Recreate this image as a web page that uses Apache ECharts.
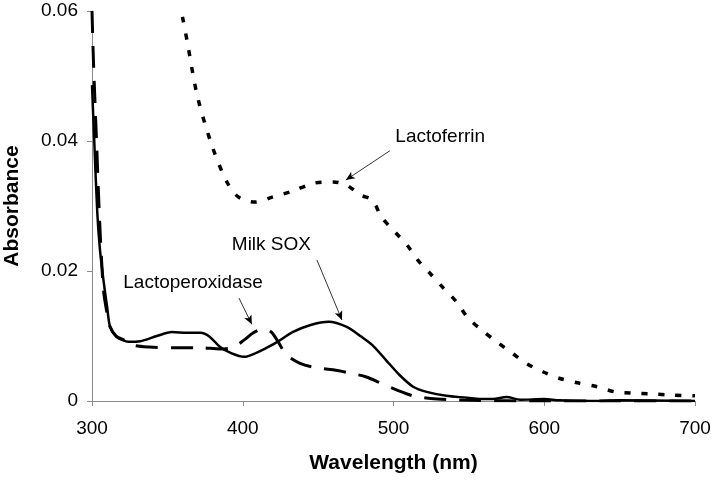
<!DOCTYPE html>
<html><head><meta charset="utf-8">
<script src="https://cdn.jsdelivr.net/npm/echarts@6/dist/echarts.min.js"></script>
<style>html,body{margin:0;padding:0;background:#fff}#c{width:719px;height:483px}</style>
</head><body><div id="c"></div>
<script>
var xTicks = [300, 400, 500, 600, 700];
var yTicks = [0, 0.02, 0.04, 0.06];

var soxWl = [300,301.5,303.5,305.3,307.6,310,312,316,320,324,332,343,353,363,372,378,385,392,401,409,416,423,433,445,457,469,478,486,495,504,513,522,535,549,557,566,575,584,600,610,630,650,700];
var soxAbs = [0.0486,0.040,0.029,0.0232,0.0186,0.0145,0.0114,0.0099,0.0094,0.0091,0.0092,0.0100,0.0106,0.0105,0.0105,0.0099,0.0083,0.0074,0.0068,0.0074,0.0082,0.0091,0.0106,0.0117,0.0122,0.0114,0.0100,0.0086,0.0063,0.0040,0.0022,0.0014,0.0008,0.0005,0.0003,0.0003,0.0006,0.0002,0.0003,0.0001,0,0.0001,0];

var lpoWl = [300,301,303,305,307.6,310,312,316,321,327,338,354,372,385,394,401,407,414,419,424,429,438,449,460,471,482,491,502,513,529,552,600,650,700];
var lpoAbs = [0.060,0.052,0.040,0.028,0.0171,0.0135,0.0114,0.0100,0.0094,0.0086,0.0083,0.0082,0.0082,0.0080,0.0083,0.0094,0.0105,0.0111,0.0106,0.0089,0.0071,0.0058,0.0051,0.0048,0.0043,0.0037,0.0028,0.0017,0.0008,0.0003,0.0001,0,0,0];

var lfWl = [360,363,370,380,389.5,397,408,420,432,447,460,469,478,486,492,501,509,516,524,533,542,549,558.5,568.5,578.5,588,599,610,622,635,647,659,671,685,700];
var lfAbs = [0.0591,0.0555,0.0468,0.039,0.0337,0.0314,0.0306,0.0314,0.0322,0.0335,0.0337,0.0332,0.0317,0.0309,0.0283,0.026,0.024,0.0217,0.0197,0.0174,0.0152,0.0129,0.0109,0.0091,0.0074,0.0058,0.0045,0.0035,0.0028,0.0022,0.0014,0.0012,0.0011,0.0009,0.0008];

var labelNames = ['Lactoferrin', 'Milk SOX', 'Lactoperoxidase'];
// arrow start/end in data coordinates [wavelength, absorbance]
var arrowFrom = [[497.6, 0.0385], [449.2, 0.0217], [397.5, 0.01585]];
var arrowTo = [[468.4, 0.0340], [465.8, 0.01246], [406, 0.0118]];
// label anchor in data coordinates
var labelAt = [[531, 0.0406], [419, 0.0240], [367, 0.0182]];

function zip(a, b) { return a.map(function (v, i) { return [v, b[i]]; }); }

var font = 'Liberation Sans, Arial, sans-serif';
var chart = echarts.init(document.getElementById('c'), null, {renderer: 'canvas'});

function arrowML(i) {
  return {
    silent: true, symbol: ['none', 'arrow'], symbolSize: [6, 9],
    lineStyle: {color: '#000', width: 0.8, type: 'solid'},
    label: {show: false},
    data: [[{coord: arrowFrom[i]}, {coord: arrowTo[i]}]]
  };
}

chart.setOption({
  animation: false,
  backgroundColor: '#fff',
  grid: {left: 92, right: 24, top: 11, bottom: 82, outerBoundsMode: 'none', containLabel: false},
  xAxis: {
    type: 'value', min: xTicks[0], max: xTicks[xTicks.length - 1], interval: 100,
    name: 'Wavelength (nm)', nameLocation: 'middle', nameGap: 52,
    nameTextStyle: {fontFamily: font, fontSize: 21, fontWeight: 'bold', color: '#000'},
    axisLine: {lineStyle: {color: '#8a8a8a', width: 1}},
    axisTick: {show: true, length: 5, lineStyle: {color: '#8a8a8a'}},
    axisLabel: {fontFamily: font, fontSize: 19, color: '#000', margin: 18},
    splitLine: {show: false}
  },
  yAxis: {
    type: 'value', min: yTicks[0], max: yTicks[yTicks.length - 1], interval: 0.02,
    name: 'Absorbance', nameLocation: 'middle', nameGap: 69, nameRotate: 90,
    nameTextStyle: {fontFamily: font, fontSize: 21, fontWeight: 'bold', color: '#000'},
    axisLine: {show: true, lineStyle: {color: '#8a8a8a', width: 1}},
    axisTick: {show: true, length: 5, lineStyle: {color: '#8a8a8a'}},
    axisLabel: {fontFamily: font, fontSize: 19, color: '#000', margin: 14,
      formatter: function (v) { return v === 0 ? '0' : v.toFixed(2); }},
    splitLine: {show: false}
  },
  series: [
    {name: 'Lactoferrin', type: 'line', data: zip(lfWl, lfAbs), showSymbol: false, smooth: 0.3,
     lineStyle: {color: '#000', width: 3.5, type: [6, 11]}, markLine: arrowML(0),
     markPoint: {silent: true, symbol: 'circle', symbolSize: 0,
       label: {show: true, formatter: labelNames[0], fontFamily: font, fontSize: 19, color: '#000'},
       data: [{coord: labelAt[0]}]}},
    {name: 'Milk SOX', type: 'line', data: zip(soxWl, soxAbs), showSymbol: false, smooth: 0.3,
     lineStyle: {color: '#000', width: 2.5, type: 'solid'}, markLine: arrowML(1),
     markPoint: {silent: true, symbol: 'circle', symbolSize: 0,
       label: {show: true, formatter: labelNames[1], fontFamily: font, fontSize: 19, color: '#000'},
       data: [{coord: labelAt[1]}]}},
    {name: 'Lactoperoxidase', type: 'line', data: zip(lpoWl, lpoAbs), showSymbol: false, smooth: 0.3,
     lineStyle: {color: '#000', width: 3, type: [22, 13]}, markLine: arrowML(2),
     markPoint: {silent: true, symbol: 'circle', symbolSize: 0,
       label: {show: true, formatter: labelNames[2], fontFamily: font, fontSize: 19, color: '#000'},
       data: [{coord: labelAt[2]}]}}
  ]
});
</script></body></html>
